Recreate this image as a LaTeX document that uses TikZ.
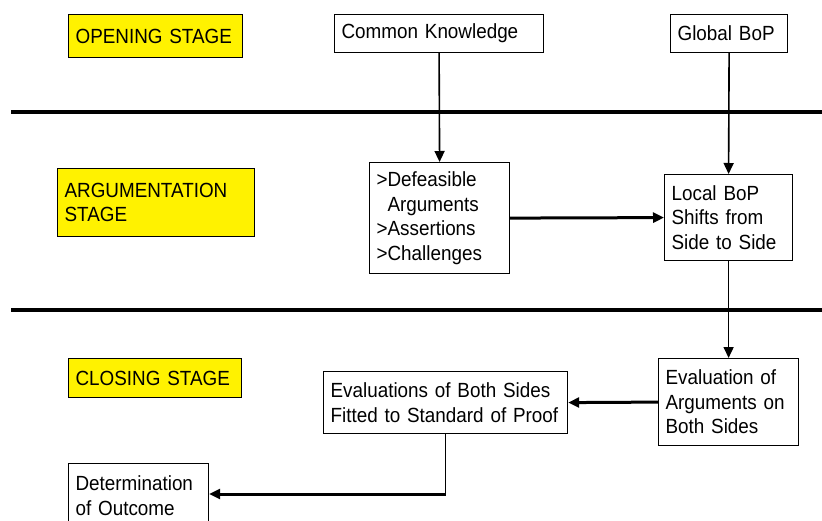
\documentclass[tikz,border=0pt]{standalone}
\usepackage{fontspec}
\setmainfont{Liberation Sans}[FakeStretch=0.92]
\usetikzlibrary{arrows.meta}

\begin{document}
\begin{tikzpicture}[x=1pt, y=-1pt, >={Triangle[length=11pt,width=10pt]},
		box/.style={draw, line width=1.2pt, anchor=north west, align=left,
			inner xsep=7pt, inner ysep=0pt, font=\fontsize{20.5}{24.5}\selectfont},
		stagebox/.style={box, fill=yellow},
		link/.style={line width=1.6pt},
		heavy/.style={line width=3pt},
		divider/.style={line width=4pt}]
	\def\lineA{112}
	\def\lineB{310}
	\useasboundingbox (0,0) rectangle (822,521);
	
	% stage dividers
	\draw[divider] (11,\lineA) -- (822,\lineA);
	\draw[divider] (11,\lineB) -- (822,\lineB);
	
	% stage labels
	\node[stagebox, minimum height=43pt, text width=160pt] (opening) at (68,14) {OPENING STAGE};
	\node[stagebox, minimum height=68pt, text width=183pt] (arguing) at (57,168) {ARGUMENTATION\\STAGE};
	\node[stagebox, minimum height=39pt, text width=159pt] (closing) at (68,358) {CLOSING STAGE};
	
	% opening stage
	\node[box, minimum height=38pt, text width=195pt] (common) at (334,14) {Common Knowledge};
	\node[box, minimum height=38pt, text width=103pt] (global) at (670,14) {Global BoP};
	
	% argumentation stage
	\node[box, minimum height=111pt, text width=126pt] (defeasible) at (369,162)
		{>Defeasible\\\phantom{>}Arguments\\>Assertions\\>Challenges};
	\node[box, minimum height=86pt, text width=114pt] (localbop) at (664,174)
		{Local BoP\\Shifts from\\Side to Side};
	
	% closing stage
	\node[box, minimum height=87pt, text width=126pt] (evalargs) at (658,358)
		{Evaluation of\\Arguments on\\Both Sides};
	\node[box, minimum height=62pt, text width=230pt] (evalsides) at (323,371)
		{Evaluations of Both Sides\\Fitted to Standard of Proof};
	\node[box, minimum height=64pt, text width=126pt] (outcome) at (68,463)
		{Determination\\of Outcome};
	
	% connectors
	\draw[link, ->] (common.south) -- (defeasible.north);
	\draw[link, ->] (global.south) -- (localbop.north);
	\draw[heavy, ->] (defeasible.east) -- (localbop.west);
	\draw[link, ->] (localbop.south) -- (evalargs.north);
	\draw[heavy, ->] (evalargs.west) -- (evalsides.east);
	\coordinate (turn) at (evalsides.south |- 0,494);
	\draw[link] (evalsides.south) -- (turn);
	\draw[heavy, ->] (turn) -- (outcome.east |- turn);
\end{tikzpicture}
\end{document}
